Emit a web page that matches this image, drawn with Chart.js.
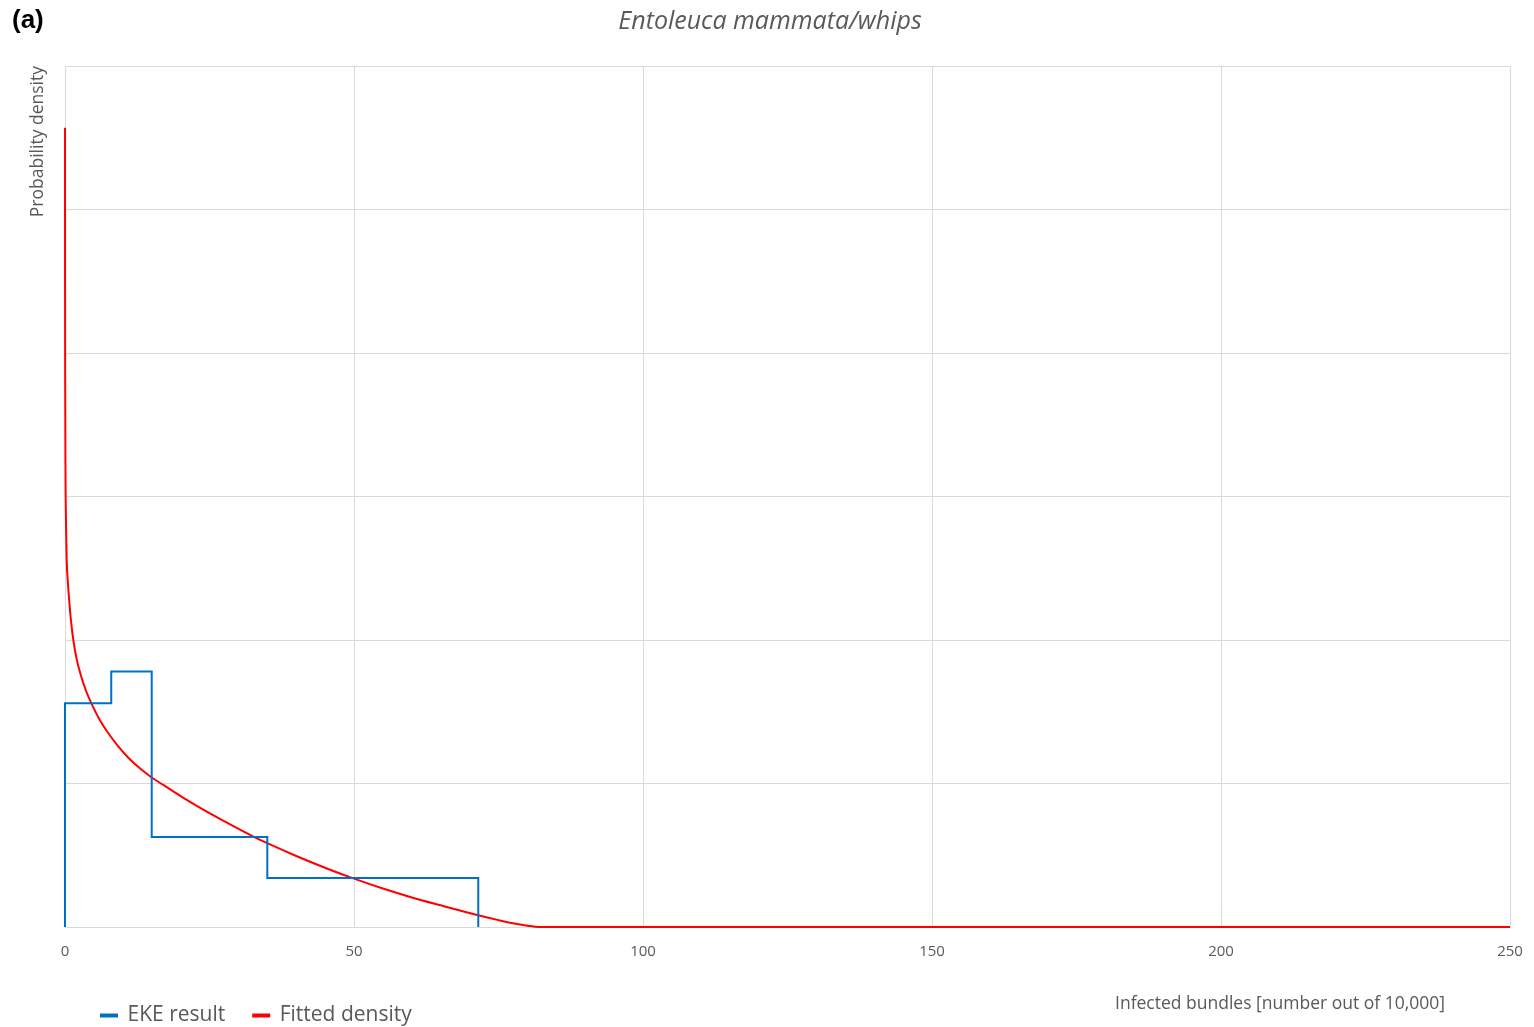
<!DOCTYPE html>
<html>
<head>
<meta charset="utf-8">
<script src="https://cdn.jsdelivr.net/npm/chart.js@4"></script>
<style>
  html, body { margin: 0; padding: 0; background: #fff; }
  #wrap { position: relative; width: 1534px; height: 1027px; }
  #panel { position: absolute; left: 12px; top: 4px; font: bold 26px "Liberation Sans", Arial, sans-serif; color: #000; }
  #xtitle { position: absolute; right: 89px; top: 990px; font: 17.5px "Open Sans", sans-serif; color: #595959; white-space: nowrap; }
</style>
</head>
<body>
<div id="wrap">
  <canvas id="chart" width="1534" height="1027"></canvas>
  <div id="panel">(a)</div>
  <div id="xtitle">Infected bundles [number out of 10,000]</div>
</div>
<script>
// EKE histogram: bin edges and heights
var binEdges = [0, 8, 15, 35, 71.5];
var binHeights = [1.56, 1.78, 0.627, 0.341];

// fitted density curve
var fitX = [0, 0.01, 0.03, 0.08, 0.18, 0.29, 0.5, 0.8, 1.1, 1.44, 2, 2.7, 3.6, 4.6, 6, 7.5, 9, 11, 13, 15, 17, 20, 23.4, 28, 32.5, 35, 40, 45.3, 50, 55, 60, 65, 71.5, 75, 78, 80, 82, 100, 150, 200, 250];
var fitY = [5.57, 4.5, 3.8, 3.2, 2.8, 2.56, 2.4, 2.24, 2.11, 2.0, 1.87, 1.76, 1.65, 1.555, 1.445, 1.35, 1.27, 1.178, 1.104, 1.042, 0.99, 0.912, 0.83, 0.727, 0.632, 0.584, 0.495, 0.408, 0.337, 0.268, 0.206, 0.151, 0.082, 0.048, 0.022, 0.009, 0, 0, 0, 0, 0];

var xTicks = [0, 50, 100, 150, 200, 250];

// build step outline from bins
var ekePoints = [{x: binEdges[0], y: 0}];
for (var i = 0; i < binHeights.length; i++) {
    ekePoints.push({x: binEdges[i], y: binHeights[i]});
    ekePoints.push({x: binEdges[i + 1], y: binHeights[i]});
}
ekePoints.push({x: binEdges[binEdges.length - 1], y: 0});

var fitPoints = fitX.map(function (x, i) { return {x: x, y: fitY[i]}; });

var grey = '#595959';
var gridColor = '#d9d9d9';

// move legend and title to where the original has them
var shiftBlocks = {
    id: 'shiftBlocks',
    afterLayout: function (chart) {
        chart.legend.left += 73;
        chart.legend.right += 73;
        chart.legend.top += 9;
        chart.legend.bottom += 9;
        chart.titleBlock.left += 15;
        chart.titleBlock.right += 15;
    }
};

new Chart(document.getElementById('chart').getContext('2d'), {
    type: 'scatter',
    data: {
        datasets: [{
            label: 'EKE result',
            data: ekePoints,
            showLine: true,
            borderColor: '#0070c0',
            backgroundColor: '#0070c0',
            borderWidth: 2,
            pointRadius: 0,
            tension: 0,
            clip: 4
        }, {
            label: 'Fitted density',
            data: fitPoints,
            showLine: true,
            borderColor: '#ff0000',
            backgroundColor: '#ff0000',
            borderWidth: 2,
            pointRadius: 0,
            cubicInterpolationMode: 'monotone',
            clip: 4
        }]
    },
    options: {
        responsive: false,
        animation: false,
        layout: {
            padding: {left: 0, right: 24, top: 0, bottom: 0}
        },
        plugins: {
            title: {
                display: true,
                text: 'Entoleuca mammata/whips',
                color: grey,
                font: {family: 'Open Sans', size: 25, style: 'italic', weight: 'normal'},
                padding: {top: 7, bottom: 29}
            },
            legend: {
                position: 'bottom',
                align: 'start',
                labels: {
                    color: grey,
                    font: {family: 'Open Sans', size: 21},
                    boxWidth: 16,
                    boxHeight: 2,
                    padding: 28
                }
            },
            tooltip: {enabled: false}
        },
        scales: {
            x: {
                type: 'linear',
                min: 0,
                max: 250,
                afterBuildTicks: function (s) { s.ticks = xTicks.map(function (v) { return {value: v}; }); },
                grid: {color: gridColor, drawTicks: false},
                border: {color: gridColor},
                ticks: {color: grey, font: {family: 'Open Sans', size: 15}, padding: 16, maxRotation: 0},
                afterFit: function (s) {
                    s.height = 41;
                    s.paddingLeft = 0;
                    s.paddingRight = 0;
                }
            },
            y: {
                min: 0,
                max: 6,
                ticks: {display: false, stepSize: 1},
                grid: {color: gridColor, drawTicks: false},
                border: {color: gridColor},
                title: {
                    display: true,
                    text: 'Probability density',
                    align: 'end',
                    color: grey,
                    font: {family: 'Open Sans', size: 17.5},
                    padding: {top: 28, bottom: 0}
                },
                afterFit: function (s) { s.width = 65; }
            }
        }
    },
    plugins: [shiftBlocks]
});
</script>
</body>
</html>
